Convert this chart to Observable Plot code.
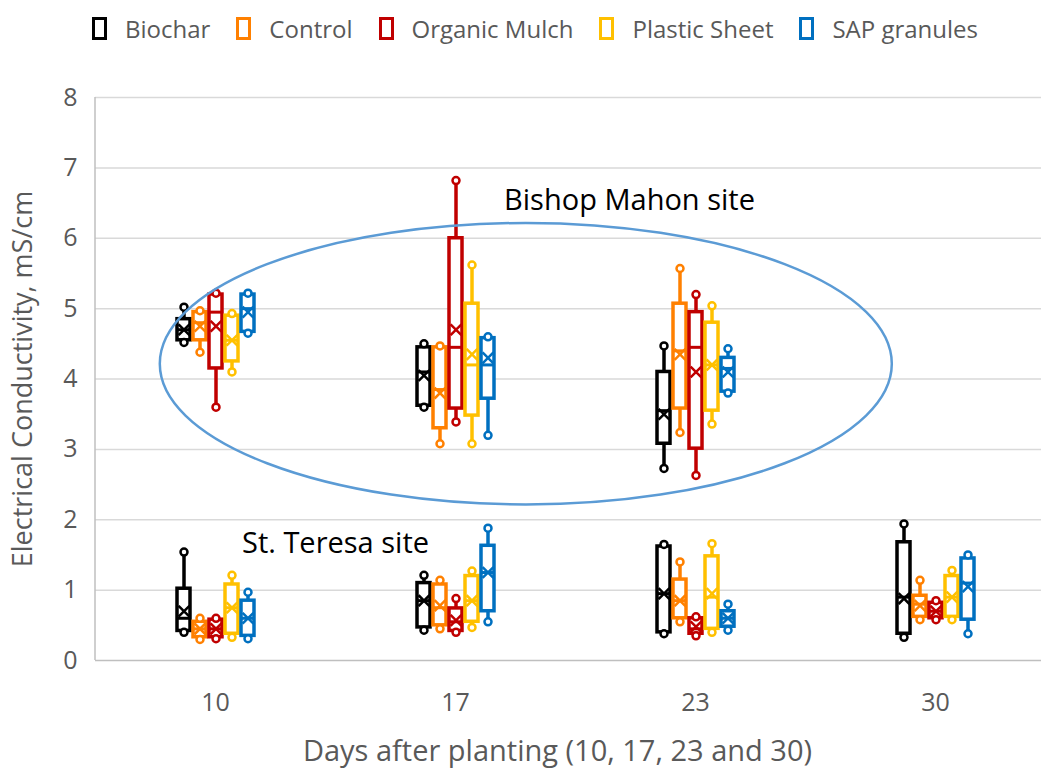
<!DOCTYPE html>
<html>
<head>
<meta charset="utf-8">
<script src="https://cdn.jsdelivr.net/npm/d3@7"></script>
<script src="https://cdn.jsdelivr.net/npm/@observablehq/plot@0.6"></script>
<style>
  html, body { margin: 0; padding: 0; background: #fff; overflow: hidden; }
  body { font-family: "Open Sans", sans-serif; width: 1041px; height: 772px; }
  #legend { display: flex; align-items: center; height: 56px; padding-left: 92px; box-sizing: border-box; color: #595959; font-size: 24px; }
  .item { display: flex; align-items: center; margin-right: 26px; }
  .sw { width: 9px; height: 17px; border: 3px solid; margin-right: 18px; background: #fff; }
</style>
</head>
<body>
<div id="legend"></div>
<div id="chart"></div>
<script>
// ---- categories ----
const days = ["10", "17", "23", "30"];
const treatments = ["Biochar", "Control", "Organic Mulch", "Plastic Sheet", "SAP granules"];
const colors = ["#000000", "#FF8000", "#C00000", "#FFC000", "#0070C0"];
const yTicks = [0, 1, 2, 3, 4, 5, 6, 7, 8];
const xLabel = "Days after planting (10, 17, 23 and 30)";
const yLabel = "Electrical Conductivity, mS/cm";

// ---- Bishop Mahon site: rows = days (10, 17, 23), cols = treatments ----
const bmMin  = [[4.52, 4.38, 3.60, 4.10, 4.65], [3.60, 3.08, 3.39, 3.08, 3.20], [2.73, 3.24, 2.63, 3.36, 3.80]];
const bmQ1   = [[4.55, 4.55, 4.15, 4.25, 4.67], [3.62, 3.30, 3.58, 3.48, 3.72], [3.08, 3.58, 3.01, 3.55, 3.82]];
const bmMed  = [[4.70, 4.80, 4.95, 4.55, 5.00], [4.10, 3.85, 4.45, 4.20, 4.20], [3.55, 4.40, 4.45, 4.20, 4.15]];
const bmQ3   = [[4.85, 4.95, 5.20, 4.90, 5.20], [4.45, 4.45, 6.00, 5.07, 4.58], [4.10, 5.07, 4.95, 4.80, 4.30]];
const bmMax  = [[5.02, 4.97, 5.22, 4.93, 5.22], [4.50, 4.47, 6.82, 5.62, 4.60], [4.47, 5.57, 5.20, 5.04, 4.43]];
const bmMean = [[4.70, 4.75, 4.75, 4.55, 4.95], [4.05, 3.80, 4.70, 4.35, 4.30], [3.50, 4.35, 4.10, 4.20, 4.10]];

// ---- St. Teresa site: rows = days (10, 17, 23, 30) ----
const stMin  = [[0.40, 0.30, 0.31, 0.33, 0.31], [0.43, 0.45, 0.40, 0.47, 0.55], [0.38, 0.55, 0.35, 0.40, 0.43], [0.33, 0.58, 0.58, 0.58, 0.38]];
const stQ1   = [[0.42, 0.33, 0.33, 0.38, 0.35], [0.47, 0.50, 0.42, 0.55, 0.70], [0.40, 0.60, 0.38, 0.45, 0.48], [0.38, 0.62, 0.60, 0.62, 0.58]];
const stMed  = [[0.60, 0.45, 0.45, 0.75, 0.60], [0.85, 0.75, 0.55, 0.85, 1.25], [0.95, 0.85, 0.45, 0.90, 0.60], [0.90, 0.80, 0.70, 0.90, 1.10]];
const stQ3   = [[1.02, 0.55, 0.58, 1.08, 0.85], [1.10, 1.08, 0.74, 1.20, 1.63], [1.62, 1.15, 0.60, 1.48, 0.70], [1.68, 0.92, 0.82, 1.20, 1.45]];
const stMax  = [[1.54, 0.60, 0.60, 1.21, 0.97], [1.21, 1.14, 0.88, 1.27, 1.88], [1.65, 1.40, 0.62, 1.66, 0.80], [1.94, 1.14, 0.85, 1.28, 1.50]];
const stMean = [[0.70, 0.45, 0.45, 0.75, 0.60], [0.85, 0.78, 0.57, 0.85, 1.25], [0.95, 0.85, 0.48, 0.95, 0.60], [0.88, 0.78, 0.70, 0.90, 1.05]];

// ---- annotations ----
const bmLabel = [{day: "23", y: 6.54, text: "Bishop Mahon site"}];
const stLabel = [{day: "10", y: 1.66, text: "St. Teresa site"}];
// ellipse around Bishop Mahon boxes: center in day-17 band (fraction), radii in bands / y units
const ellipseSpec = {day: "17", bandFraction: 0.795, rxBands: 1.525, cy: 4.21, ry: 2.0};

// ---- build table ----
const rows = [];
function addSite(site, mins, q1s, meds, q3s, maxs, means, dayList) {
  dayList.forEach((d, i) => treatments.forEach((t, j) => rows.push({
    site, day: d, treatment: t,
    min: mins[i][j], q1: q1s[i][j], median: meds[i][j], q3: q3s[i][j], max: maxs[i][j], mean: means[i][j]
  })));
}
addSite("Bishop Mahon", bmMin, bmQ1, bmMed, bmQ3, bmMax, bmMean, days.slice(0, 3));
addSite("St. Teresa", stMin, stQ1, stMed, stQ3, stMax, stMean, days);

// ---- legend ----
const legend = document.getElementById("legend");
treatments.forEach((t, i) => {
  const it = document.createElement("div");
  it.className = "item";
  const sw = document.createElement("span");
  sw.className = "sw";
  sw.style.borderColor = colors[i];
  const lb = document.createElement("span");
  lb.textContent = t;
  it.appendChild(sw); it.appendChild(lb);
  legend.appendChild(it);
});

// ---- chart ----
const marginLeft = 95;
const chart = Plot.plot({
  width: 1041,
  height: 716,
  marginLeft,
  marginRight: -14,
  marginTop: 41,
  marginBottom: 112,
  style: {fontFamily: "Open Sans, sans-serif", fontSize: "25px", color: "#595959", background: "white", overflow: "hidden"},
  fx: {domain: days, padding: 0, axis: "bottom", tickSize: 0, tickPadding: 33,
       label: xLabel, labelAnchor: "center", labelOffset: 100, labelArrow: "none"},
  x: {domain: treatments, paddingInner: 0.2, paddingOuter: 4.8, axis: null},
  y: {domain: [0, 8], ticks: yTicks, tickSize: 0, tickPadding: 18,
      label: yLabel, labelAnchor: "center", labelOffset: 83, labelArrow: "none"},
  color: {domain: treatments, range: colors},
  marks: [
    Plot.ruleY(yTicks.slice(1), {stroke: "#d9d9d9", strokeWidth: 1.5}),
    Plot.ruleY([0], {stroke: "#bfbfbf", strokeWidth: 1.5}),
    Plot.ruleX(rows, {fx: "day", x: "treatment", y1: "min", y2: "max", stroke: "treatment", strokeWidth: 3.5, strokeLinecap: "round"}),
    Plot.barY(rows, {fx: "day", x: "treatment", y1: "q1", y2: "q3", fill: "white", stroke: "treatment", strokeWidth: 3.5}),
    Plot.tickY(rows, {fx: "day", x: "treatment", y: "median", stroke: "treatment", strokeWidth: 3}),
    Plot.dot(rows, {fx: "day", x: "treatment", y: "min", r: 3.5, fill: "white", stroke: "treatment", strokeWidth: 2.5}),
    Plot.dot(rows, {fx: "day", x: "treatment", y: "max", r: 3.5, fill: "white", stroke: "treatment", strokeWidth: 2.5}),
    Plot.dot(rows, {fx: "day", x: "treatment", y: "mean", symbol: "times", r: 5, stroke: "treatment", strokeWidth: 2.5}),
    Plot.text(bmLabel, {fx: "day", y: "y", text: "text", frameAnchor: "left", dx: 54, fill: "#000", fontSize: 29, textAnchor: "middle"}),
    Plot.text(stLabel, {fx: "day", y: "y", text: "text", frameAnchor: "right", dx: 0, fill: "#000", fontSize: 29, textAnchor: "middle"})
  ]
});
document.getElementById("chart").appendChild(chart);

// post-render decorations placed with the chart's own scales
const svg = d3.select(chart);
const ys = chart.scale("y");
const fxs = chart.scale("fx");
// axis titles: sizes and the x title's centring under the plot area
svg.selectAll("text").filter(function(){ return this.textContent === yLabel; }).attr("font-size", 27);
svg.selectAll("text").filter(function(){ return this.textContent === xLabel; }).attr("font-size", 29).attr("dx", -18);
// y axis line
svg.append("line")
  .attr("x1", marginLeft).attr("x2", marginLeft)
  .attr("y1", ys.apply(0)).attr("y2", ys.apply(8))
  .attr("stroke", "#bfbfbf").attr("stroke-width", 1.5);
// ellipse
const bw = fxs.bandwidth;
svg.append("ellipse")
  .attr("cx", fxs.apply(ellipseSpec.day) + ellipseSpec.bandFraction * bw)
  .attr("cy", ys.apply(ellipseSpec.cy))
  .attr("rx", ellipseSpec.rxBands * bw)
  .attr("ry", Math.abs(ys.apply(ellipseSpec.cy + ellipseSpec.ry) - ys.apply(ellipseSpec.cy)))
  .attr("fill", "none").attr("stroke", "#5B9BD5").attr("stroke-width", 2.5);
</script>
</body>
</html>
